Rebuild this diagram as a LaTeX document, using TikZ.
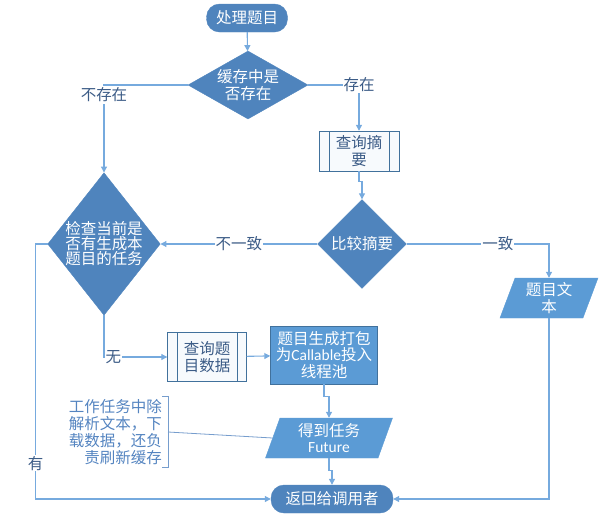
\documentclass[tikz,border=0pt]{standalone}
\usepackage{fontspec}
\setmainfont{Noto Sans CJK SC}
\newfontfamily\latfont{Carlito}
\usetikzlibrary{shapes.geometric,arrows.meta,positioning}
\definecolor{boxblue}{RGB}{79,132,189}
\definecolor{procblue}{RGB}{91,155,213}
\definecolor{edgeblue}{RGB}{65,113,156}
\definecolor{lineblue}{RGB}{118,170,222}
\definecolor{lblblue}{RGB}{60,92,135}
\definecolor{noteblue}{RGB}{84,132,192}
\tikzstyle{term} = [draw=boxblue,fill=boxblue,rectangle,rounded corners=13pt,text=white,inner sep=0,minimum height=28pt]
\tikzstyle{decide} = [draw=boxblue,fill=boxblue,diamond,text=white,align=center,inner sep=0]
\tikzstyle{proc} = [draw=edgeblue,fill=procblue,rectangle,text=white,align=center,inner sep=0]
\tikzstyle{sub} = [draw=edgeblue,fill=procblue!5,rectangle,text=lblblue,align=center,inner sep=0]
\tikzstyle{io} = [draw=procblue,fill=procblue,trapezium,trapezium left angle=64,trapezium right angle=116,trapezium stretches body,text=white,align=center,inner sep=0,minimum height=40pt]
\tikzstyle{link} = [-{Triangle[length=6pt,width=6pt]},draw=lineblue,line width=1.1pt]
\tikzstyle{lbl} = [fill=white,text=lblblue,inner sep=1pt]
\tikzstyle{brk} = [-,draw=noteblue!80,line width=0.8pt]
\def\fs{\fontsize{15.5}{16.5}\selectfont}
\def\inset{10pt}

\begin{document}
\begin{tikzpicture}[x=1pt,y=-1pt,font=\fs]
  \useasboundingbox (0,0) rectangle (606,515);
  \node[term,minimum width=81pt] (start) at (247,18) {处理题目};
  \node[decide,aspect=1.76,minimum width=120pt,minimum height=68pt] (cache) at (248,85) {缓存中是\\否存在};
  \node[sub,minimum width=80pt,minimum height=40pt] (digest) at (359,151) {查询摘\\要};
  \draw[edgeblue] ([xshift=\inset]digest.north west) -- ([xshift=\inset]digest.south west);
  \draw[edgeblue] ([xshift=-\inset]digest.north east) -- ([xshift=-\inset]digest.south east);
  \node[decide,minimum width=89pt,minimum height=89pt] (cmp) at (362,244) {比较摘要};
  \node[decide,aspect=0.79,minimum width=111pt,minimum height=140pt,font={\fontsize{15.5}{15}\selectfont}] (check) at (104,244) {检查当前是\\否有生成本\\题目的任务};
  \node[io,minimum width=98pt] (title) at (549,298) {题目文\\本};
  \node[sub,minimum width=79pt,minimum height=49pt] (fetch) at (207,357) {查询题\\目数据};
  \draw[edgeblue] ([xshift=\inset]fetch.north west) -- ([xshift=\inset]fetch.south west);
  \draw[edgeblue] ([xshift=-\inset]fetch.north east) -- ([xshift=-\inset]fetch.south east);
  \node[proc,minimum width=107pt,minimum height=58pt] (pack) at (324,355) {题目生成打包\\为{\latfont Callable}投入\\线程池};
  \node[io,minimum width=127pt] (future) at (329,438) {得到任务\\{\latfont Future}};
  \node[term,minimum width=122pt] (ret) at (332,499) {返回给调用者};
  \node[anchor=east,align=right,text=noteblue,inner sep=0,font={\fontsize{15.5}{17}\selectfont}] (memo) at (162,432) {工作任务中除\\解析文本，下\\载数据，还负\\责刷新缓存};
  \coordinate (memotop) at (168,396);
  \coordinate (memobot) at (168,467);

  \draw[link] (start) -- (cache);
  \draw[link] (cache.east) -| node[lbl]{存在} (digest.north);
  \draw[link] (cache.west) -| node[lbl,anchor=north,inner sep=2pt]{不存在} (check.north);
  \draw[link] (digest.south) -- ++(0,10) -| (cmp.north);
  \draw[link] (cmp.west) -- node[lbl]{不一致} (check.east);
  \draw[link] (cmp.east) -| node[lbl,pos=0.32]{一致} (title.north);
  \draw[link] (title.south) |- (ret.east);
  \draw[link] (check.south) |- node[lbl,anchor=west]{无} (fetch.west);
  \draw[link] (fetch) -- (pack);
  \draw[link] (pack.south) -- ++(0,12) -| (future.north);
  \draw[link] (future.south) -- ++(0,12) -| (ret.north);
  \draw[link] (check.west) -- ++(-12,0) |- node[lbl,pos=0.43]{有} (ret.west);
  \draw[brk] ([xshift=-6pt]memotop) -- (memotop) -- (memobot) -- ([xshift=-6pt]memobot);
  \draw[brk] (memotop |- memo.east) -- (future.west);
\end{tikzpicture}
\end{document}
